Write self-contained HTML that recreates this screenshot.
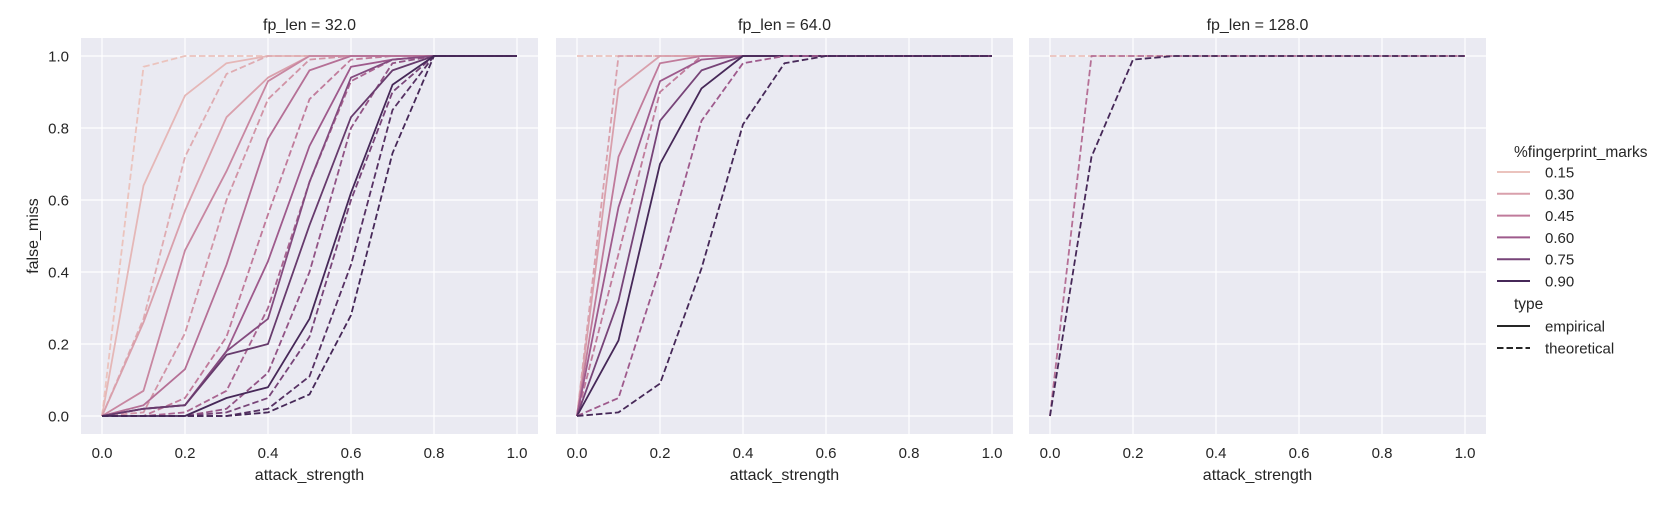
<!DOCTYPE html>
<html><head><meta charset="utf-8"><style>
html,body{margin:0;padding:0;background:#fff;}
svg text{font-family:"Liberation Sans",Arial,sans-serif;fill:#262626;}
</style></head><body>
<svg id="chart" width="1668" height="500" xmlns="http://www.w3.org/2000/svg"></svg>
<script>
const xValues=[0,0.1,0.2,0.3,0.4,0.5,0.6,0.7,0.8,0.9,1.0];
const xTicks=[0,0.2,0.4,0.6,0.8,1.0];
const yTicks=[0,0.2,0.4,0.6,0.8,1.0];
const panelTitles=["fp_len = 32.0","fp_len = 64.0","fp_len = 128.0"];
const legendHues=[0.15,0.30,0.45,0.60,0.75,0.90];
const legendTypes=["empirical","theoretical"];
const panel1Series=[
 [0.15,"theoretical",[0,0.97,1,1,1,1,1,1,1,1,1]],
 [0.20,"empirical",[0,0.64,0.89,0.98,1,1,1,1,1,1,1]],
 [0.25,"theoretical",[0,0.27,0.72,0.95,1,1,1,1,1,1,1]],
 [0.30,"empirical",[0,0.26,0.57,0.83,0.94,1,1,1,1,1,1]],
 [0.35,"theoretical",[0,0.01,0.23,0.60,0.88,0.99,1,1,1,1,1]],
 [0.40,"empirical",[0,0.07,0.46,0.68,0.93,1,1,1,1,1,1]],
 [0.45,"theoretical",[0,0,0.05,0.22,0.56,0.88,0.99,1,1,1,1]],
 [0.50,"empirical",[0,0.03,0.13,0.42,0.77,0.96,1,1,1,1,1]],
 [0.55,"theoretical",[0,0,0.01,0.07,0.30,0.65,0.93,0.99,1,1,1]],
 [0.60,"empirical",[0,0.02,0.03,0.18,0.43,0.75,0.97,0.99,1,1,1]],
 [0.65,"theoretical",[0,0,0,0.02,0.12,0.40,0.80,0.98,1,1,1]],
 [0.70,"empirical",[0,0.02,0.03,0.18,0.27,0.65,0.94,0.99,1,1,1]],
 [0.75,"theoretical",[0,0,0,0.01,0.05,0.22,0.60,0.90,1,1,1]],
 [0.80,"empirical",[0,0.02,0.03,0.17,0.20,0.53,0.83,0.96,1,1,1]],
 [0.85,"theoretical",[0,0,0,0,0.02,0.11,0.42,0.85,1,1,1]],
 [0.90,"empirical",[0,0,0,0.05,0.08,0.27,0.62,0.92,1,1,1]],
 [0.90,"theoretical",[0,0,0,0,0.01,0.06,0.28,0.73,1,1,1]]
];
const panel2Series=[
 [0.15,"theoretical",[1,1,1,1,1,1,1,1,1,1,1]],
 [0.30,"theoretical",[0,1,1,1,1,1,1,1,1,1,1]],
 [0.30,"empirical",[0,0.91,1,1,1,1,1,1,1,1,1]],
 [0.45,"empirical",[0,0.72,0.98,1,1,1,1,1,1,1,1]],
 [0.45,"theoretical",[0,0.45,0.90,1,1,1,1,1,1,1,1]],
 [0.60,"empirical",[0,0.58,0.93,0.99,1,1,1,1,1,1,1]],
 [0.75,"empirical",[0,0.32,0.82,0.96,1,1,1,1,1,1,1]],
 [0.90,"empirical",[0,0.21,0.70,0.91,1,1,1,1,1,1,1]],
 [0.60,"theoretical",[0,0.05,0.41,0.82,0.98,1,1,1,1,1,1]],
 [0.90,"theoretical",[0,0.01,0.09,0.41,0.81,0.98,1,1,1,1,1]]
];
const panel3Series=[
 [0.15,"theoretical",[1,1,1,1,1,1,1,1,1,1,1]],
 [0.50,"theoretical",[0,1,1,1,1,1,1,1,1,1,1]],
 [0.90,"theoretical",[0,0.72,0.99,1,1,1,1,1,1,1,1]]
];
const allPanels=[panel1Series,panel2Series,panel3Series];

const NS="http://www.w3.org/2000/svg";
const svg=document.getElementById('chart');
function mk(tag,attrs,parent){const e=document.createElementNS(NS,tag);for(const k in attrs)e.setAttribute(k,attrs[k]);(parent||svg).appendChild(e);return e;}
const stops=[[0.10,[242,212,204]],[0.15,[235,195,189]],[0.30,[217,160,172]],[0.45,[192,123,155]],[0.60,[158,90,140]],[0.75,[119,68,120]],[0.90,[70,40,88]],[1.0,[45,30,62]]];
function hueColor(h){
 for(let i=0;i<stops.length-1;i++){const a=stops[i],b=stops[i+1];
  if(h<=b[0]){const t=Math.max(0,(h-a[0])/(b[0]-a[0]));const c=a[1].map((v,j)=>Math.round(v+(b[1][j]-v)*t));return 'rgb('+c.join(',')+')';}}
 return 'rgb(45,30,62)';
}
const panelLeft=[81,556,1029], panelW=457, plotTop=38, plotBottom=434;
const y0px=416, y1px=56;
function yScale(v){return y0px+(y1px-y0px)*v;}
allPanels.forEach((series,p)=>{
 const L=panelLeft[p];
 const x0=L+21, x1=L+panelW-21;
 const xScale=v=>x0+(x1-x0)*v;
 const g=mk('g',{});
 
 
 const bg=mk('rect',{x:L,y:plotTop,width:panelW,height:plotBottom-plotTop,fill:'#eaeaf2'},g);
 
 
 xTicks.forEach(t=>{
  const X=xScale(t);
  const gl=mk('line',{x1:X,x2:X,y1:plotTop,y2:plotBottom,stroke:'#fff','stroke-width':1.2},g);
  
  
  const tx=mk('text',{x:X,y:458,'text-anchor':'middle','font-size':15},g);
  tx.textContent=t.toFixed(1);
  
  
 });
 yTicks.forEach(t=>{
  const Y=yScale(t);
  const gl=mk('line',{x1:L,x2:L+panelW,y1:Y,y2:Y,stroke:'#fff','stroke-width':1.2},g);
  
  
  if(p===0){
   const ty=mk('text',{x:69,y:Y+5.5,'text-anchor':'end','font-size':15},g);
   ty.textContent=t.toFixed(1);
   
   
  }
 });
 series.forEach(s=>{
  const pts=xValues.map((xv,i)=>xScale(xv).toFixed(1)+','+yScale(s[2][i]).toFixed(1)).join(' ');
  const attrs={points:pts,fill:'none',stroke:hueColor(s[0]),'stroke-width':1.8,'stroke-linejoin':'round'};
  if(s[1]==='theoretical')attrs['stroke-dasharray']='6.5,3';
  const pl=mk('polyline',attrs,g);
  
  
 });
 const tt=mk('text',{x:L+panelW/2,y:30,'text-anchor':'middle','font-size':16},g);
 tt.textContent=panelTitles[p];
 
 
 const xl=mk('text',{x:L+panelW/2,y:480,'text-anchor':'middle','font-size':16},g);
 xl.textContent='attack_strength';
 
 
});
const yl=mk('text',{x:38,y:236,'text-anchor':'middle','font-size':16,transform:'rotate(-90 38 236)'});
yl.textContent='false_miss';


const lg=mk('g',{});


const lt=mk('text',{x:1514,y:157,'font-size':15.5},lg);
lt.textContent='%fingerprint_marks';


legendHues.forEach((h,i)=>{
 const Y=172+i*21.8;
 const ln=mk('line',{x1:1497,x2:1530,y1:Y,y2:Y,stroke:hueColor(h),'stroke-width':2},lg);
 
 
 const t=mk('text',{x:1545,y:Y+5.5,'font-size':15},lg);
 t.textContent=h.toFixed(2);
 
 
});
const tt2=mk('text',{x:1514,y:309,'font-size':15.5},lg);
tt2.textContent='type';


legendTypes.forEach((ty,i)=>{
 const Y=326+i*22;
 const a={x1:1497,x2:1530,y1:Y,y2:Y,stroke:'#262626','stroke-width':2};
 if(ty==='theoretical')a['stroke-dasharray']='6.5,3';
 const ln=mk('line',a,lg);
 
 
 const t=mk('text',{x:1545,y:Y+5.5,'font-size':15},lg);
 t.textContent=ty;
 
 
});
</script>
</body></html>
